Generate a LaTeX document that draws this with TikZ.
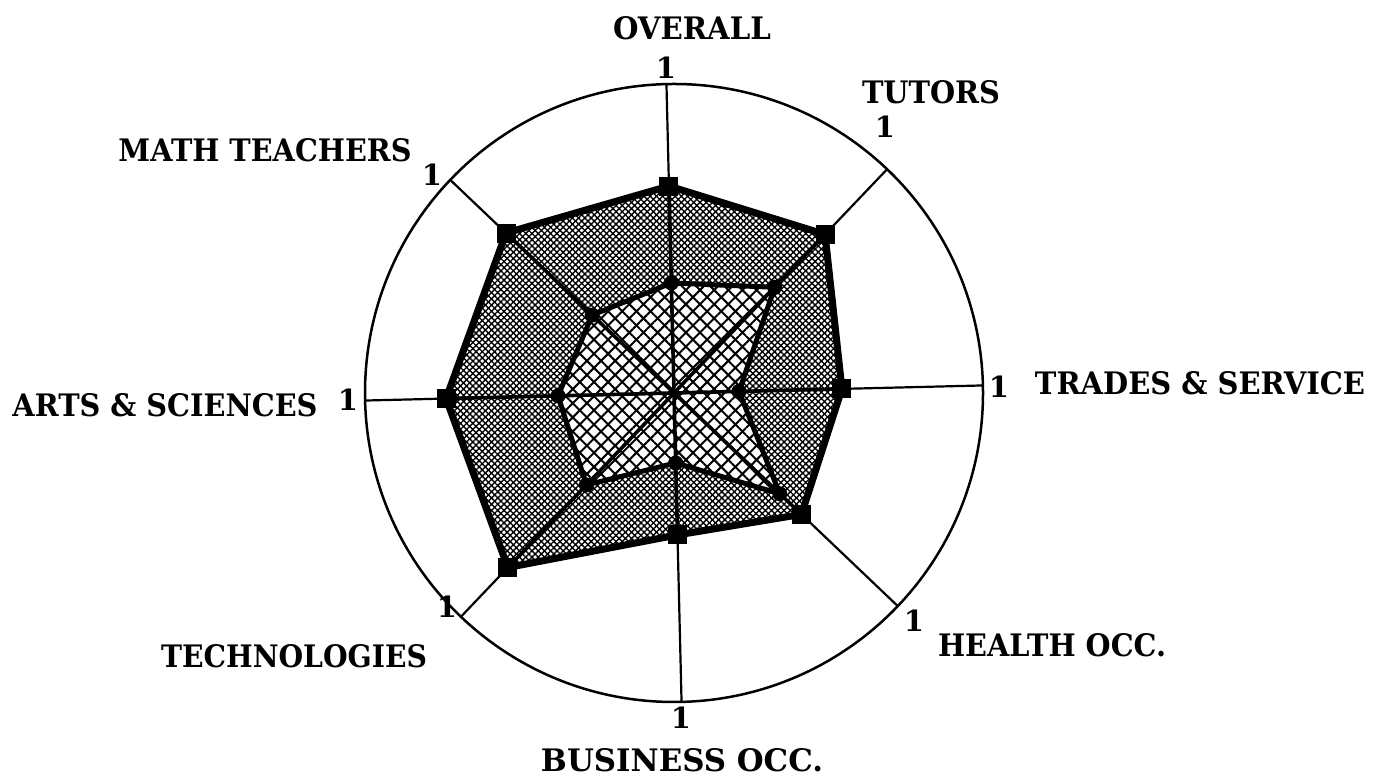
\documentclass[tikz,border=0pt]{standalone}
\usepackage{fontspec}
\setmainfont{DejaVu Serif}
\usetikzlibrary{patterns.meta}
\newcommand\lab[2]{\resizebox{#1pt}{23pt}{\bfseries #2}}
\begin{document}
\begin{tikzpicture}[x=1pt,y=1pt,
  lbl/.style={inner sep=0pt, anchor=center},
  onelbl/.style={inner sep=0pt, anchor=center, font=\bfseries\fontsize{29}{31}\selectfont},
  sqmark/.style={fill=black, minimum size=19pt, inner sep=0pt, rectangle},
  dotmark/.style={fill=black, minimum size=15pt, inner sep=0pt, circle},
  spoke/.style={line width=2.2pt},
  spokein/.style={line width=3.6pt},
  outerline/.style={line width=7pt, line join=round},
  innerline/.style={line width=5pt, line join=round},
  finehatch/.style={pattern={Lines[angle=45,distance=4.4pt,line width=1.4pt]}},
  finehatchb/.style={pattern={Lines[angle=-45,distance=4.4pt,line width=1.4pt]}},
  coarsehatch/.style={pattern={Lines[angle=45,distance=10pt,line width=2pt]}},
  coarsehatchb/.style={pattern={Lines[angle=-45,distance=10pt,line width=2pt]}}
]
\useasboundingbox (0,0) rectangle (1375,778);
\fill[white] (0,0) rectangle (1375,778);
\coordinate (O) at (674,385);
% n / angle / outer radius / inner radius
\foreach \n/\a/\ro/\ri in {1/91.4/207/110, 2/46.4/219/146, 3/1.4/168/65, 4/-43.6/176/146,
                           5/-88.6/142/70, 6/-133.6/241/127, 7/181.4/228/116, 8/136.4/232/113}{
  \coordinate (e\n) at ([shift={(\a:309)}]O);
  \coordinate (o\n) at ([shift={(\a:\ro)}]O);
  \coordinate (i\n) at ([shift={(\a:\ri)}]O);
}
% outer circle
\draw[line width=2.5pt] (O) circle (309);
% outer polygon fill
\path[finehatch] (o1)--(o2)--(o3)--(o4)--(o5)--(o6)--(o7)--(o8)--cycle;
\path[finehatchb] (o1)--(o2)--(o3)--(o4)--(o5)--(o6)--(o7)--(o8)--cycle;
% inner polygon fill
\fill[white] (i1)--(i2)--(i3)--(i4)--(i5)--(i6)--(i7)--(i8)--cycle;
\path[coarsehatch] (i1)--(i2)--(i3)--(i4)--(i5)--(i6)--(i7)--(i8)--cycle;
\path[coarsehatchb] (i1)--(i2)--(i3)--(i4)--(i5)--(i6)--(i7)--(i8)--cycle;
% spokes
\foreach \n in {1,...,8}{
  \draw[spoke] (O) -- (e\n);
  \draw[spokein] (O) -- (o\n);
}
% polygon outlines
\draw[outerline] (o1)--(o2)--(o3)--(o4)--(o5)--(o6)--(o7)--(o8)--cycle;
\draw[innerline] (i1)--(i2)--(i3)--(i4)--(i5)--(i6)--(i7)--(i8)--cycle;
% markers
\foreach \n in {1,...,8}{
  \node[sqmark] (S\n) at (o\n) {};
  \node[dotmark] (D\n) at (i\n) {};
}
% category labels
\node[lbl] (tOverall) at (692,750) {\lab{158}{OVERALL}};
\node[lbl] (tTutors) at (931,686) {\lab{138}{TUTORS}};
\node[lbl] (tTrades) at (1200,395) {\lab{330}{TRADES \& SERVICE}};
\node[lbl] (tHealth) at (1052,133) {\lab{228}{HEALTH OCC.}};
\node[lbl] (tBusiness) at (682,18) {\lab{282}{BUSINESS OCC.}};
\node[lbl] (tTech) at (294,122) {\lab{266}{TECHNOLOGIES}};
\node[lbl] (tArts) at (165,373) {\lab{305}{ARTS \& SCIENCES}};
\node[lbl] (tMath) at (265,628) {\lab{293}{MATH TEACHERS}};
% scale labels
\node[onelbl] (n1) at (666,710) {1};
\node[onelbl] (n2) at (885,651) {1};
\node[onelbl] (n3) at (999,391) {1};
\node[onelbl] (n4) at (914,157) {1};
\node[onelbl] (n5) at (681,60) {1};
\node[onelbl] (n6) at (447,171) {1};
\node[onelbl] (n7) at (348,378) {1};
\node[onelbl] (n8) at (432,603) {1};
\end{tikzpicture}
\end{document}
